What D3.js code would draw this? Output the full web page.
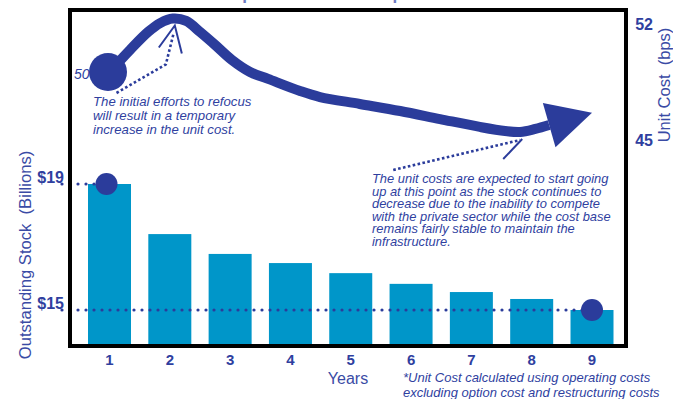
<!DOCTYPE html>
<html>
<head>
<meta charset="utf-8">
<script src="https://cdn.jsdelivr.net/npm/d3@7/dist/d3.min.js"></script>
<style>
  html, body { margin: 0; padding: 0; background: #fff; }
  svg { display: block; font-family: "Liberation Sans", Arial, sans-serif; }
</style>
</head>
<body>
<svg id="chart" width="673" height="399"></svg>
<script>
// Outstanding stock by year ($ billions)
const years = [1, 2, 3, 4, 5, 6, 7, 8, 9];
const stock = [19.0, 17.41, 16.78, 16.49, 16.17, 15.83, 15.57, 15.35, 15.0];
const stockTicks = [19, 15];
const stockTickLabels = ["$19", "$15"];

// Projected unit cost path (bps), sampled along the year axis
const costYears  = [1.00, 1.34, 1.64, 1.84, 2.05, 2.27, 2.50, 2.75, 3.03, 3.33, 3.63, 4.16, 4.49, 5.15, 5.82, 6.48, 7.14, 7.56, 7.81, 8.06, 8.29];
const costValues = [50.00, 50.92, 51.67, 52.04, 52.23, 52.13, 51.67, 51.13, 50.50, 50.00, 49.49, 48.60, 48.16, 47.65, 47.13, 46.54, 45.96, 45.66, 45.59, 45.81, 46.10];
const costTip = { year: 9.0, value: 47.0 };
const costStartLabel = "50";
const costTicks = [52, 45];

const titleText = "Forecasted Impact of Reduced Option Stock on the Unit Cost";
const note1 = ["The initial efforts to refocus", "will result in a temporary", "increase in the unit cost."];
const note2 = ["The unit costs are expected to start going", "up at this point as the stock continues to",
  "decrease due to the inability to compete", "with the private sector while the cost base",
  "remains fairly stable to maintain the", "infrastructure."];
const footnote = ["*Unit Cost calculated using operating costs", "excluding option cost and restructuring costs"];

const navy = "#2B3C9B";
const textBlue = "#2F3F9F";
const barBlue = "#0096C9";

const svg = d3.select("#chart");

// Frame
const frame = { left: 70, top: 10, right: 626, bottom: 346 };

const x = d3.scaleLinear().domain([1, 9]).range([109.5, 592]);
const yStock = d3.scaleLinear().domain([15, 19]).range([310, 184]);
// Unit cost scale: conceptual, piecewise between the marked levels
const yCost = d3.scaleLinear().domain([45, 50, 52]).range([140, 72, 24]);

// Title (sits above the frame, mostly outside the page)
svg.append("text")
  .attr("x", 374).attr("y", -0.5)
  .attr("text-anchor", "middle")
  .attr("font-size", 17).attr("font-weight", "bold")
  .attr("fill", "#6E7BC2")
  .text(titleText);

// Bars
const barW = 43;
svg.append("g").selectAll("rect").data(years).join("rect")
  .attr("x", (d) => x(d) - barW / 2)
  .attr("y", (d, i) => yStock(stock[i]))
  .attr("width", barW)
  .attr("height", (d, i) => frame.bottom - yStock(stock[i]))
  .attr("fill", barBlue);

// Dotted reference lines from the stock axis
const dotted = svg.append("g")
  .attr("stroke", navy).attr("stroke-width", 3.2)
  .attr("stroke-linecap", "round").attr("stroke-dasharray", "0 8");
dotted.append("line")
  .attr("x1", 62).attr("x2", x(years[0]))
  .attr("y1", yStock(stock[0])).attr("y2", yStock(stock[0]));
dotted.append("line")
  .attr("x1", 62).attr("x2", x(years[8]))
  .attr("y1", yStock(stock[8])).attr("y2", yStock(stock[8]));

// End-point markers on the first and last bars
svg.append("g").selectAll("circle").data([0, 8]).join("circle")
  .attr("cx", (i) => x(years[i]) - (i === 0 ? 3 : 0))
  .attr("cy", (i) => yStock(stock[i]))
  .attr("r", 11)
  .attr("fill", navy);

// Frame border
svg.append("rect")
  .attr("x", frame.left).attr("y", frame.top)
  .attr("width", frame.right - frame.left)
  .attr("height", frame.bottom - frame.top)
  .attr("fill", "none").attr("stroke", "#000").attr("stroke-width", 4);

// Left axis labels
svg.append("g").selectAll("text").data(stockTicks).join("text")
  .attr("x", 64).attr("y", (d) => yStock(d) - 1)
  .attr("text-anchor", "end")
  .attr("font-size", 16).attr("font-weight", "bold")
  .attr("fill", textBlue)
  .text((d, i) => stockTickLabels[i]);

svg.append("text")
  .attr("transform", "translate(31,255) rotate(-90)")
  .attr("text-anchor", "middle")
  .attr("font-size", 16.6)
  .attr("fill", "#3A4BA5")
  .text("Outstanding Stock \u00A0(Billions)");

// X axis labels
svg.append("g").selectAll("text").data(years).join("text")
  .attr("x", (d) => x(d)).attr("y", 365)
  .attr("text-anchor", "middle")
  .attr("font-size", 15).attr("font-weight", "bold")
  .attr("fill", textBlue)
  .text((d) => d);

svg.append("text")
  .attr("x", 348).attr("y", 384)
  .attr("text-anchor", "middle")
  .attr("font-size", 16)
  .attr("fill", "#3A4BA5")
  .text("Years");

// Right axis labels
svg.append("g").selectAll("text").data(costTicks).join("text")
  .attr("x", 653).attr("y", (d) => yCost(d) + 6)
  .attr("text-anchor", "end")
  .attr("font-size", 16).attr("font-weight", "bold")
  .attr("fill", textBlue)
  .text((d) => d);

svg.append("text")
  .attr("transform", "translate(670,85) rotate(-90)")
  .attr("text-anchor", "middle")
  .attr("font-size", 16.5)
  .attr("fill", "#3A4BA5")
  .text("Unit Cost \u00A0(bps)");

// Start value label (partly behind the start marker)
svg.append("text")
  .attr("x", 74).attr("y", yCost(costValues[0]) + 7)
  .attr("font-size", 14).attr("font-style", "italic")
  .attr("fill", textBlue)
  .text(costStartLabel);

// Unit cost path
const pts = costYears.map((d, i) => [x(d), yCost(costValues[i])]);
const line = d3.line().curve(d3.curveCatmullRom.alpha(0.5));
svg.append("path")
  .attr("d", line(pts))
  .attr("fill", "none")
  .attr("stroke", navy).attr("stroke-width", 10)
  .attr("stroke-linejoin", "round");

// Arrowhead at the end of the path
const base = pts[pts.length - 1];
const tip = [x(costTip.year), yCost(costTip.value)];
const dx = tip[0] - base[0], dy = tip[1] - base[1];
const len = Math.hypot(dx, dy);
const px = -dy / len, py = dx / len;
const half = 23;
svg.append("path")
  .attr("d", `M${tip[0]},${tip[1]}L${base[0] + px * half},${base[1] + py * half}L${base[0] - px * half},${base[1] - py * half}Z`)
  .attr("fill", navy);

// Start marker
svg.append("circle")
  .attr("cx", pts[0][0] - 1.5).attr("cy", pts[0][1])
  .attr("r", 19)
  .attr("fill", navy);

// Callouts
const callout = svg.append("g").attr("fill", "none").attr("stroke", navy);
const peak = pts[4];
callout.append("path")
  .attr("d", d3.line()([[pts[0][0] + 7, pts[0][1] + 21], [peak[0] - 7, peak[1] + 46], [peak[0] + 1, peak[1] + 14]]))
  .attr("stroke-width", 2.6).attr("stroke-dasharray", "2.6 2.4");
callout.append("path")
  .attr("d", d3.line()([[peak[0] - 14, peak[1] + 29], [peak[0] + 2, peak[1] + 7], [peak[0] + 9, peak[1] + 35]]))
  .attr("stroke-width", 2);

const dip = pts[18];
callout.append("path")
  .attr("d", d3.line()([[dip[0] - 127, dip[1] + 38], [dip[0], dip[1] + 8]]))
  .attr("stroke-width", 2.6).attr("stroke-dasharray", "2.6 2.4");
callout.append("path")
  .attr("d", d3.line()([[dip[0] + 2, dip[1] + 7], [dip[0] - 17, dip[1] + 27]]))
  .attr("stroke-width", 2);

// Callout texts
function textBlock(lines, x0, y0, lh, size) {
  svg.append("g").selectAll("text").data(lines).join("text")
    .attr("x", x0).attr("y", (d, i) => y0 + i * lh)
    .attr("font-size", size).attr("font-style", "italic")
    .attr("fill", textBlue)
    .text((d) => d);
}
textBlock(note1, 93, 106, 14, 13.2);
textBlock(note2, 372, 183, 12.6, 12.9);
textBlock(footnote, 403, 382, 14.5, 13);
</script>
</body>
</html>
